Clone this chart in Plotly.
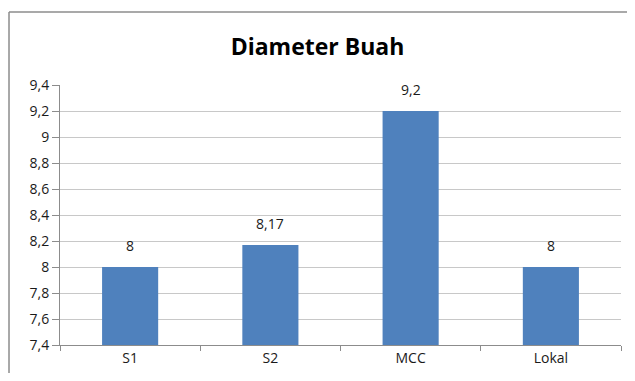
import plotly.graph_objects as go

categories = ["S1", "S2", "MCC", "Lokal"]
values = [8, 8.17, 9.2, 8]
y_ticks = [7.4, 7.6, 7.8, 8.0, 8.2, 8.4, 8.6, 8.8, 9.0, 9.2, 9.4]
title_text = "Diameter Buah"

def fmt(v):
    s = ("%g" % v)
    return s.replace(".", ",")

font_family = "'Open Sans', sans-serif"

fig = go.Figure()
fig.add_trace(go.Bar(
    x=categories, y=values, width=0.4,
    marker=dict(color="#4F81BD", line=dict(width=0)),
))

for c, v in zip(categories, values):
    fig.add_annotation(x=c, y=v, text=fmt(v), showarrow=False,
                       yanchor="bottom", yshift=10,
                       font=dict(family=font_family, size=14, color="#1a1a1a"))

# outer chart frame (top and left edges visible in the reference)
fig.add_shape(type="line", xref="paper", yref="paper",
              x0=-0.0909, y0=1.2808, x1=1.3, y1=1.2808,
              line=dict(color="#8c8c8c", width=1.5), layer="below")
fig.add_shape(type="line", xref="paper", yref="paper",
              x0=-0.0909, y0=1.2808, x1=-0.0909, y1=-0.3,
              line=dict(color="#8c8c8c", width=1.5), layer="below")

fig.update_layout(
    width=619, height=365,
    margin=dict(l=52, r=6, t=77, b=28),
    paper_bgcolor="white", plot_bgcolor="white",
    separators=",.",
    showlegend=False,
    title=dict(text="<b>%s</b>" % title_text, x=0.5, xanchor="center",
               y=1 - 39/365, yanchor="middle",
               font=dict(family=font_family, size=23, color="black")),
    font=dict(family=font_family, size=14, color="#1a1a1a"),
)
fig.update_yaxes(
    range=[7.4, 9.4], tickvals=y_ticks,
    ticktext=[fmt(t) for t in y_ticks],
    showgrid=True, gridcolor="#c8c8c8", gridwidth=1,
    showline=True, linecolor="#8c8c8c", linewidth=1,
    ticks="outside", ticklen=7, tickcolor="#8c8c8c",
    zeroline=False, fixedrange=True,
)
fig.update_xaxes(
    showline=True, linecolor="#8c8c8c", linewidth=1,
    ticks="outside", ticklen=5, tickcolor="#8c8c8c",
    tickson="boundaries", showgrid=False,
)

fig.write_html("out.html")
